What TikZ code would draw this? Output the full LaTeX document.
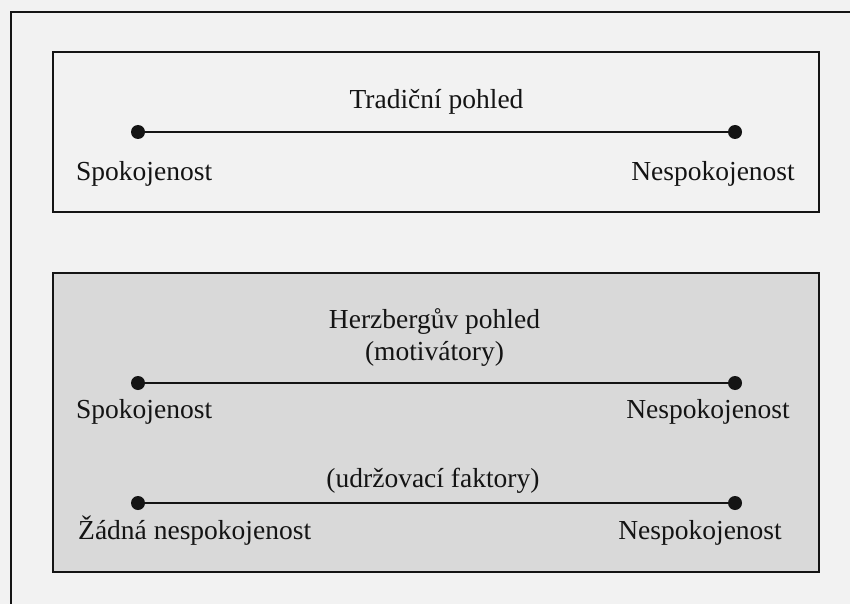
\documentclass[tikz,border=0pt]{standalone}
\usepackage{fontspec}
\setmainfont{Liberation Serif}
\definecolor{pagebg}{HTML}{F2F2F2}
\definecolor{panelgray}{HTML}{D9D9D9}
\definecolor{ink}{HTML}{141414}
\begin{document}
\begin{tikzpicture}[x=1pt,y=-1pt,
  lbl/.style={inner sep=0pt,font=\fontsize{27.5}{33}\selectfont,text=ink},
  dot/.style={circle,fill=ink,inner sep=0pt,minimum size=14pt},
  scale line/.style={draw=ink,line width=2pt},
  panel/.style={draw=ink,line width=1.6pt}]
% page background and frame
\fill[pagebg] (0,0) rectangle (850,604);
\useasboundingbox (0,0) rectangle (850,604);
\begin{scope}
\clip (0,0) rectangle (850,604);
\draw[ink,line width=2pt] (11,620) -- (11,12) -- (870,12);
\end{scope}
% traditional view panel
\draw[panel,fill=pagebg] (53,52) rectangle (819,212);
\node[lbl,anchor=base] (trad) at (436.5,109) {Tradiční pohled};
\node[dot] (t1) at (138,132) {};
\node[dot] (t2) at (735,132) {};
\draw[scale line] (t1) -- (t2);
\node[lbl,anchor=base west] (tsat) at (76,180) {Spokojenost};
\node[lbl,anchor=base east] (tdis) at (795,180) {Nespokojenost};
% Herzberg panel
\draw[panel,fill=panelgray] (53,273) rectangle (819,572);
\node[lbl,anchor=base] (herz) at (434.5,328) {Herzbergův pohled};
\node[lbl,anchor=base] (motiv) at (434.5,360) {(motivátory)};
\node[dot] (m1) at (138,383) {};
\node[dot] (m2) at (735,383) {};
\draw[scale line] (m1) -- (m2);
\node[lbl,anchor=base west] (msat) at (76,418) {Spokojenost};
\node[lbl,anchor=base east] (mdis) at (790,418) {Nespokojenost};
\node[lbl,anchor=base] (hyg) at (433,487) {(udržovací faktory)};
\node[dot] (h1) at (138,503) {};
\node[dot] (h2) at (735,503) {};
\draw[scale line] (h1) -- (h2);
\node[lbl,anchor=base west] (hnone) at (78,539) {Žádná nespokojenost};
\node[lbl,anchor=base east] (hdis) at (782,539) {Nespokojenost};
\end{tikzpicture}
\end{document}
